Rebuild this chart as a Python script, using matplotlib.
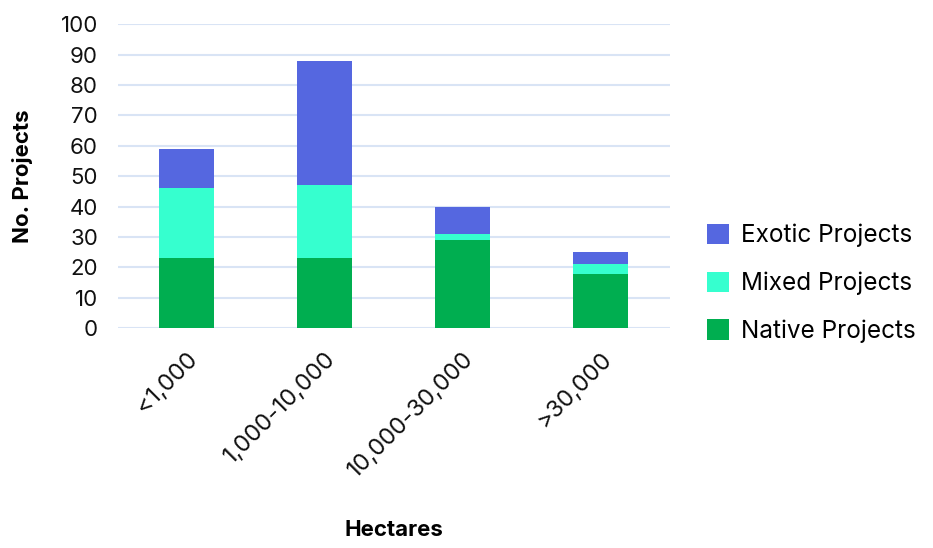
import matplotlib
matplotlib.use("Agg")
import matplotlib.pyplot as plt
import numpy as np

plt.rcParams['font.family'] = ['Inter', 'DejaVu Sans']

categories = ["<1,000", "1,000-10,000", "10,000-30,000", ">30,000"]
native = [23, 23, 29, 18]
mixed = [23, 24, 2, 3]
exotic = [13, 41, 9, 4]

c_native, c_mixed, c_exotic = "#00AE50", "#36FFCF", "#5567E0"

fig = plt.figure(figsize=(9.33, 5.48), dpi=100)
ax = fig.add_axes([0.126, 0.401, 0.592, 0.555])

x = np.arange(len(categories))
w = 0.4
b1 = ax.bar(x, native, w, color=c_native, label="Native Projects", zorder=3)
b2 = ax.bar(x, mixed, w, bottom=native, color=c_mixed, label="Mixed Projects", zorder=3)
bot = np.array(native) + np.array(mixed)
b3 = ax.bar(x, exotic, w, bottom=bot, color=c_exotic, label="Exotic Projects", zorder=3)

ax.set_xlim(-0.5, 3.5)
ax.set_ylim(0, 100)
ax.set_yticks(range(0, 101, 10))
ax.yaxis.grid(True, color="#D9E4F5", linewidth=1.5, zorder=0)
ax.set_axisbelow(True)
for s in ax.spines.values():
    s.set_visible(False)
ax.tick_params(length=0, labelsize=16, colors="#111111")
ax.set_xticks(x)
ax.set_xticklabels(categories, rotation=45, ha="right", rotation_mode="anchor", fontsize=17)
ax.tick_params(axis="x", pad=14)
ax.tick_params(axis="y", pad=14)

ax.set_ylabel("No. Projects", fontsize=16, fontweight="bold", labelpad=20)
fig.text(0.422, 0.015, "Hectares", ha="center", va="bottom", fontsize=16, fontweight="bold")

fig.legend(handles=[b3, b2, b1], loc="center left", bbox_to_anchor=(0.734, 0.483),
           frameon=False, fontsize=17.5, handlelength=0.9, handleheight=0.9,
           labelspacing=1.0, handletextpad=0.5)

fig.savefig("out.png", dpi=100)
